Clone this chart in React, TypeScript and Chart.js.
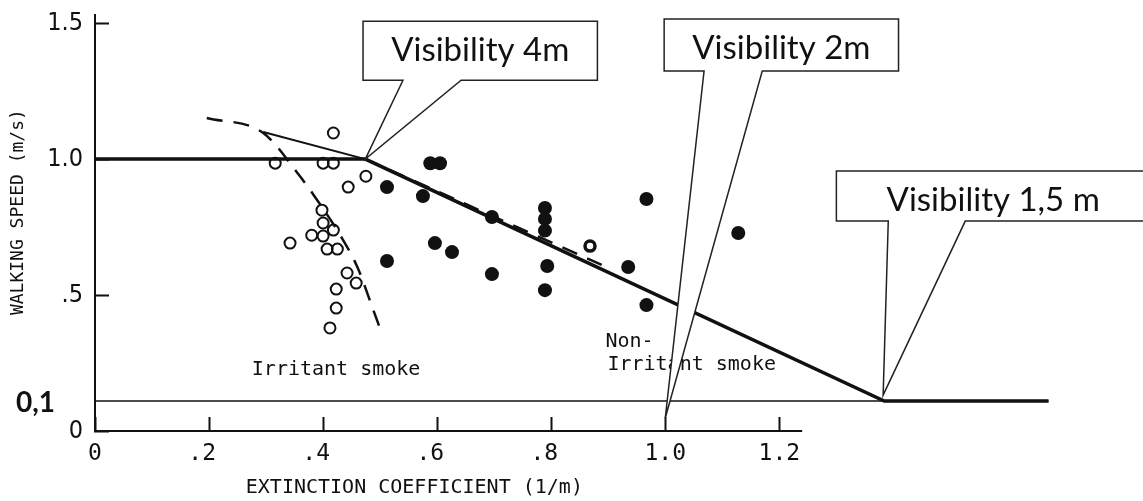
import React, { useEffect, useRef } from "react";
import { Chart, registerables } from "chart.js";

Chart.register(...registerables);

// ---------- data (extinction coefficient 1/m, walking speed m/s) ----------
const openCircles = [
  { x: 0.418, y: 1.096 }, { x: 0.316, y: 0.985 }, { x: 0.400, y: 0.985 },
  { x: 0.418, y: 0.985 }, { x: 0.475, y: 0.937 }, { x: 0.444, y: 0.897 },
  { x: 0.398, y: 0.812 }, { x: 0.400, y: 0.765 }, { x: 0.418, y: 0.739 },
  { x: 0.380, y: 0.720 }, { x: 0.400, y: 0.717 }, { x: 0.342, y: 0.691 },
  { x: 0.407, y: 0.669 }, { x: 0.425, y: 0.669 }, { x: 0.442, y: 0.581 },
  { x: 0.458, y: 0.544 }, { x: 0.423, y: 0.522 }, { x: 0.423, y: 0.452 },
  { x: 0.412, y: 0.379 },
];

const ringPoints = [{ x: 0.868, y: 0.680 }];

const filledCircles = [
  { x: 0.588, y: 0.985 }, { x: 0.605, y: 0.985 }, { x: 0.512, y: 0.897 },
  { x: 0.575, y: 0.864 }, { x: 0.696, y: 0.787 }, { x: 0.789, y: 0.820 },
  { x: 0.789, y: 0.780 }, { x: 0.789, y: 0.737 }, { x: 0.596, y: 0.691 },
  { x: 0.626, y: 0.658 }, { x: 0.512, y: 0.625 }, { x: 0.696, y: 0.577 },
  { x: 0.793, y: 0.607 }, { x: 0.789, y: 0.518 }, { x: 0.967, y: 0.853 },
  { x: 0.935, y: 0.603 }, { x: 0.967, y: 0.463 }, { x: 1.128, y: 0.728 },
];

const nonIrritantModel = [
  { x: 0, y: 1.0 }, { x: 0.474, y: 1.0 }, { x: 1.384, y: 0.11 }, { x: 1.672, y: 0.11 },
];
const irritantModel = [{ x: 0.295, y: 1.10 }, { x: 0.474, y: 1.0 }];
const irritantCurve = [
  { x: 0.196, y: 1.151 }, { x: 0.295, y: 1.096 }, { x: 0.354, y: 0.952 },
  { x: 0.386, y: 0.860 }, { x: 0.430, y: 0.720 }, { x: 0.460, y: 0.603 },
  { x: 0.488, y: 0.445 }, { x: 0.504, y: 0.353 },
];
const nonIrritantFit = [{ x: 0.474, y: 1.0 }, { x: 0.900, y: 0.600 }];
const minimumSpeed = [{ x: 0, y: 0.11 }, { x: 1.672, y: 0.11 }];
const xAxisExtent = [{ x: 0, y: 0 }, { x: 1.24, y: 0 }];

const xTickValues = [0, 0.2, 0.4, 0.6, 0.8, 1.0, 1.2];
const xTickLabels = ["0", ".2 ", ".4 ", ".6 ", ".8 ", "1.0", "1.2"];
const yTickValues = [0, 0.5, 1.0, 1.5];
const yTickLabels = ["0", ".5", "1.0", "1.5"];

const xTitle = "EXTINCTION COEFFICIENT (1/m)";
const yTitle = "WALKING SPEED (m/s)";
const minimumSpeedLabel = "0,1";

const noteIrritant = { lines: ["Irritant smoke"], x: 0.275, y: 0.224 };
const noteNonIrritant = { lines: ["Non-", "Irritant smoke"], x: 0.895, y: 0.327 };

const callouts = [
  { text: "Visibility 4m", anchor: { x: 0.474, y: 1.0 }, box: { x0: 0.470, x1: 0.881, y0: 1.507, y1: 1.290 }, base: [0.540, 0.642] },
  { text: "Visibility 2m", anchor: { x: 1.0, y: 0.048 }, box: { x0: 0.998, x1: 1.409, y0: 1.515, y1: 1.324 }, base: [1.068, 1.170] },
  { text: "Visibility 1,5 m", anchor: { x: 1.382, y: 0.132 }, box: { x0: 1.300, x1: 1.851, y0: 0.956, y1: 0.772 }, base: [1.391, 1.526] },
];

const MONO = '"DejaVu Sans Mono", monospace';
const CALLOUT_FONT = 'Lato, "Open Sans", "Liberation Sans", sans-serif';

const annotationPlugin = {
  id: "figureAnnotations",
  afterDraw(chart: any) {
    const { ctx, chartArea } = chart;
    const xs = chart.scales.x;
    const ys = chart.scales.y;
    const px = (v: number) => xs.getPixelForValue(v);
    const py = (v: number) => ys.getPixelForValue(v);
    ctx.save();
    ctx.fillStyle = "#111";

    // axis titles
    ctx.font = `20px ${MONO}`;
    ctx.textAlign = "center";
    ctx.textBaseline = "middle";
    ctx.fillText(xTitle, px(0.56), chartArea.bottom + 57);
    ctx.save();
    ctx.translate(chartArea.left - 77, py(0.805));
    ctx.rotate(-Math.PI / 2);
    ctx.font = `18px ${MONO}`;
    ctx.fillText(yTitle, 0, 0);
    ctx.restore();

    // 0,1 label
    ctx.font = `bold 28px Lato, "Liberation Sans", sans-serif`;
    ctx.textAlign = "right";
    ctx.fillText(minimumSpeedLabel, chartArea.left - 40, py(0.11) + 2);

    // notes
    ctx.font = `20px ${MONO}`;
    ctx.textAlign = "left";
    [noteIrritant, noteNonIrritant].forEach((n) => {
      n.lines.forEach((line, i) => {
        ctx.fillText(line, px(n.x) + (i > 0 ? 2 : 0), py(n.y) + i * 23);
      });
    });

    // callouts
    callouts.forEach((c) => {
      const L = px(c.box.x0), R = px(c.box.x1), T = py(c.box.y0), B = py(c.box.y1);
      const b0 = px(c.base[0]), b1 = px(c.base[1]);
      const tx = px(c.anchor.x), ty = py(c.anchor.y);
      ctx.beginPath();
      ctx.moveTo(L, T);
      ctx.lineTo(R, T);
      ctx.lineTo(R, B);
      ctx.lineTo(b1, B);
      ctx.lineTo(tx, ty);
      ctx.lineTo(b0, B);
      ctx.lineTo(L, B);
      ctx.closePath();
      ctx.fillStyle = "#fff";
      ctx.fill();
      ctx.lineWidth = 1.5;
      ctx.strokeStyle = "#222";
      ctx.stroke();
      ctx.fillStyle = "#111";
      ctx.font = `33px ${CALLOUT_FONT}`;
      ctx.textAlign = "center";
      ctx.textBaseline = "alphabetic";
      ctx.fillText(c.text, (L + Math.min(R, chart.width + 7)) / 2, T + 40);
    });
    ctx.restore();
  },
};

export default function App() {
  const canvasRef = useRef<HTMLCanvasElement | null>(null);

  useEffect(() => {
    if (!canvasRef.current) return;
    const lineDs = (data: any[], width: number, extra: any = {}) => ({
      type: "line",
      data,
      borderColor: "#111",
      borderWidth: width,
      pointRadius: 0,
      fill: false,
      showLine: true,
      tension: 0,
      ...extra,
    });
    const chart = new Chart(canvasRef.current, {
      type: "scatter",
      data: {
        datasets: [
          {
            label: "Non-irritant smoke (measured)",
            data: filledCircles,
            pointStyle: "circle",
            pointRadius: 7,
            backgroundColor: "#111",
            borderColor: "#111",
            borderWidth: 0,
          },
          {
            label: "Irritant smoke (measured)",
            data: openCircles,
            pointStyle: "circle",
            pointRadius: 5.5,
            backgroundColor: "rgba(0,0,0,0)",
            borderColor: "#111",
            borderWidth: 2,
          },
          {
            label: "Ring",
            data: ringPoints,
            pointStyle: "circle",
            pointRadius: 5,
            backgroundColor: "#fff",
            borderColor: "#111",
            borderWidth: 3.5,
          },
          lineDs(nonIrritantModel, 3.5, { label: "Non-irritant model" }),
          lineDs(irritantModel, 2, { label: "Irritant model" }),
          lineDs(irritantCurve, 2.5, { label: "Irritant fit", borderDash: [16, 11], cubicInterpolationMode: "monotone" }),
          lineDs(nonIrritantFit, 2.5, { label: "Non-irritant fit", borderDash: [16, 11] }),
          lineDs(minimumSpeed, 1.5, { label: "0,1 m/s" }),
          lineDs(xAxisExtent, 2, { label: "x axis", clip: false }),
        ] as any,
      },
      options: {
        animation: false,
        responsive: true,
        maintainAspectRatio: false,
        layout: { padding: { top: 15, right: 50, left: 0, bottom: 0 } },
        plugins: { legend: { display: false }, tooltip: { enabled: false }, title: { display: false } },
        scales: {
          x: {
            type: "linear",
            min: 0,
            max: 1.75,
            afterFit: (s: any) => {
              s.height = 70;
              s.paddingLeft = 0; s.paddingRight = 0; s.paddingTop = 0; s.paddingBottom = 0;
            },
            afterBuildTicks: (s: any) => { s.ticks = xTickValues.map((v) => ({ value: v })); },
            border: { display: false },
            grid: {
              display: true,
              drawOnChartArea: false,
              drawTicks: true,
              tickLength: -14,
              tickWidth: 2,
              tickColor: "#111",
            },
            ticks: {
              autoSkip: false,
              maxRotation: 0,
              padding: 23,
              color: "#111",
              font: { family: MONO, size: 23 },
              callback: (_v: any, i: number) => xTickLabels[i],
            },
          },
          y: {
            type: "linear",
            min: 0,
            max: 1.53,
            afterFit: (s: any) => {
              s.width = 95;
              s.paddingLeft = 0; s.paddingRight = 0; s.paddingTop = 0; s.paddingBottom = 0;
            },
            afterBuildTicks: (s: any) => { s.ticks = yTickValues.map((v) => ({ value: v })); },
            border: { display: true, color: "#111", width: 2 },
            grid: {
              display: true,
              drawOnChartArea: false,
              drawTicks: true,
              tickLength: -14,
              tickWidth: 2,
              tickColor: "#111",
            },
            ticks: {
              autoSkip: false,
              padding: 26,
              color: "#111",
              font: { family: '"DejaVu Sans Condensed", "DejaVu Sans", sans-serif', size: 25 },
              callback: (_v: any, i: number) => yTickLabels[i],
            },
          },
        },
      } as any,
      plugins: [annotationPlugin],
    });
    return () => chart.destroy();
  }, []);

  return (
    <div style={{ position: "fixed", left: 0, top: 0, width: 1143, height: 501, background: "#fff" }}>
      <canvas ref={canvasRef} />
    </div>
  );
}
